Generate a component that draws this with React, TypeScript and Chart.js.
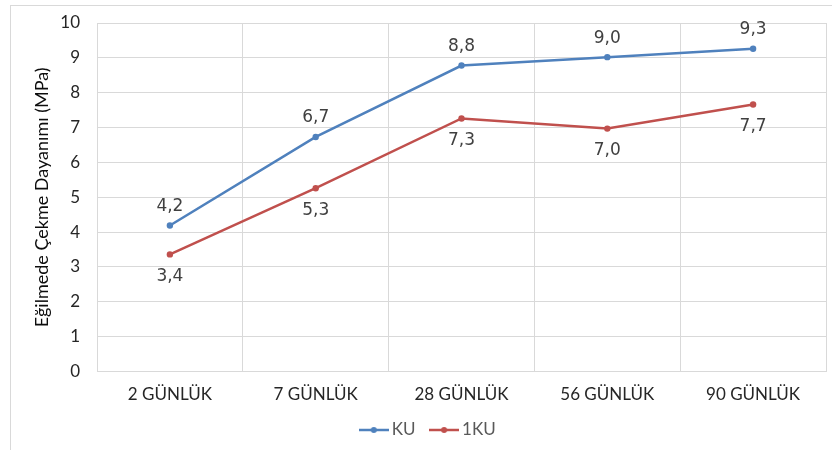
import React, { useEffect, useRef } from "react";
import { Chart, registerables } from "chart.js";

Chart.register(...registerables);

const categories = ["2 GÜNLÜK", "7 GÜNLÜK", "28 GÜNLÜK", "56 GÜNLÜK", "90 GÜNLÜK"];
const kuValues = [4.19, 6.73, 8.78, 9.02, 9.26];
const oneKuValues = [3.36, 5.26, 7.26, 6.97, 7.66];
const seriesNames = ["KU", "1KU"];
const yTitle = "Eğilmede Çekme Dayanımı (MPa)";

const BLUE = "#4f81bd";
const RED = "#c0504d";
const FONT = "Lato, 'Open Sans', sans-serif";

function makeLegendIcon(color: string) {
  const c = document.createElement("canvas");
  c.width = 30;
  c.height = 10;
  const ctx = c.getContext("2d")!;
  ctx.strokeStyle = color;
  ctx.lineWidth = 2.5;
  ctx.beginPath();
  ctx.moveTo(0, 5);
  ctx.lineTo(30, 5);
  ctx.stroke();
  ctx.fillStyle = color;
  ctx.beginPath();
  ctx.arc(15, 5, 3, 0, Math.PI * 2);
  ctx.fill();
  return c;
}

const borderPlugin = {
  id: "outerBorder",
  beforeDraw(chart: any) {
    const ctx = chart.ctx;
    ctx.save();
    ctx.fillStyle = "#ffffff";
    ctx.fillRect(0, 0, chart.width, chart.height);
    ctx.strokeStyle = "#d9d9d9";
    ctx.lineWidth = 1;
    ctx.strokeRect(10.5, 5.5, 1000, 1000);
    ctx.restore();
  },
};

const labelPlugin = {
  id: "dataLabels",
  afterDatasetsDraw(chart: any) {
    const ctx = chart.ctx;
    ctx.save();
    ctx.font = "17px 'DejaVu Sans'";
    ctx.fillStyle = "#404040";
    ctx.textAlign = "center";
    ctx.textBaseline = "middle";
    chart.data.datasets.forEach((ds: any, di: number) => {
      const meta = chart.getDatasetMeta(di);
      meta.data.forEach((pt: any, i: number) => {
        const v = ds.data[i] as number;
        const txt = v.toFixed(1).replace(".", ",");
        const dy = di === 0 ? -19 : 22;
        ctx.fillText(txt, pt.x, pt.y + dy);
      });
    });
    ctx.restore();
  },
};

export default function App() {
  const ref = useRef<HTMLCanvasElement>(null);
  useEffect(() => {
    const icons = [makeLegendIcon(BLUE), makeLegendIcon(RED)];
    const chart = new Chart(ref.current!, {
      type: "line",
      data: {
        labels: categories,
        datasets: [
          {
            label: seriesNames[0],
            data: kuValues,
            borderColor: BLUE,
            backgroundColor: BLUE,
            borderWidth: 2.5,
            pointRadius: 3.2,
            pointBackgroundColor: BLUE,
            pointBorderWidth: 0,
            tension: 0,
          },
          {
            label: seriesNames[1],
            data: oneKuValues,
            borderColor: RED,
            backgroundColor: RED,
            borderWidth: 2.5,
            pointRadius: 3.2,
            pointBackgroundColor: RED,
            pointBorderWidth: 0,
            tension: 0,
          },
        ],
      },
      options: {
        responsive: false,
        animation: false,
        layout: { padding: { left: 34, top: 23, right: 6, bottom: 1.5 } },
        plugins: {
          tooltip: { enabled: false },
          legend: {
            position: "bottom",
            labels: {
              usePointStyle: true,
              pointStyleWidth: 19,
              color: "#595959",
              font: { family: FONT, size: 17 },
              padding: 19,
              generateLabels: (chart: any) =>
                chart.data.datasets.map((ds: any, i: number) => ({
                  text: ds.label,
                  pointStyle: icons[i],
                  fillStyle: ds.borderColor,
                  strokeStyle: ds.borderColor,
                  lineWidth: 0,
                  hidden: false,
                  datasetIndex: i,
                  fontColor: "#595959",
                })),
            },
          },
        },
        scales: {
          x: {
            offset: true,
            grid: { color: "#d9d9d9", lineWidth: 1, drawTicks: false, offset: true },
            border: { color: "#d9d9d9" },
            ticks: {
              color: "#262626",
              padding: 13,
              font: { family: FONT, size: 17 },
              maxRotation: 0,
            },
            afterFit: (s: any) => {
              s.height = 31;
            },
          },
          y: {
            min: 0,
            max: 10,
            ticks: {
              stepSize: 1,
              color: "#262626",
              padding: 17,
              font: { family: FONT, size: 17 },
            },
            grid: { color: "#d9d9d9", lineWidth: 1, drawTicks: false },
            border: { color: "#d9d9d9" },
            title: {
              display: true,
              text: yTitle,
              color: "#0d0d0d",
              font: { family: FONT, size: 18 },
              padding: { top: -3, bottom: 0 },
            },
            afterFit: (s: any) => {
              s.width = 63;
              s.paddingTop = 10;
              s.paddingBottom = 10;
            },
          },
        },
      },
      plugins: [borderPlugin, labelPlugin],
    });
    return () => chart.destroy();
  }, []);
  return (
    <div style={{ position: "fixed", left: 0, top: 0, width: 832, height: 450 }}>
      <canvas ref={ref} width={832} height={450} style={{ width: 832, height: 450 }} />
    </div>
  );
}
